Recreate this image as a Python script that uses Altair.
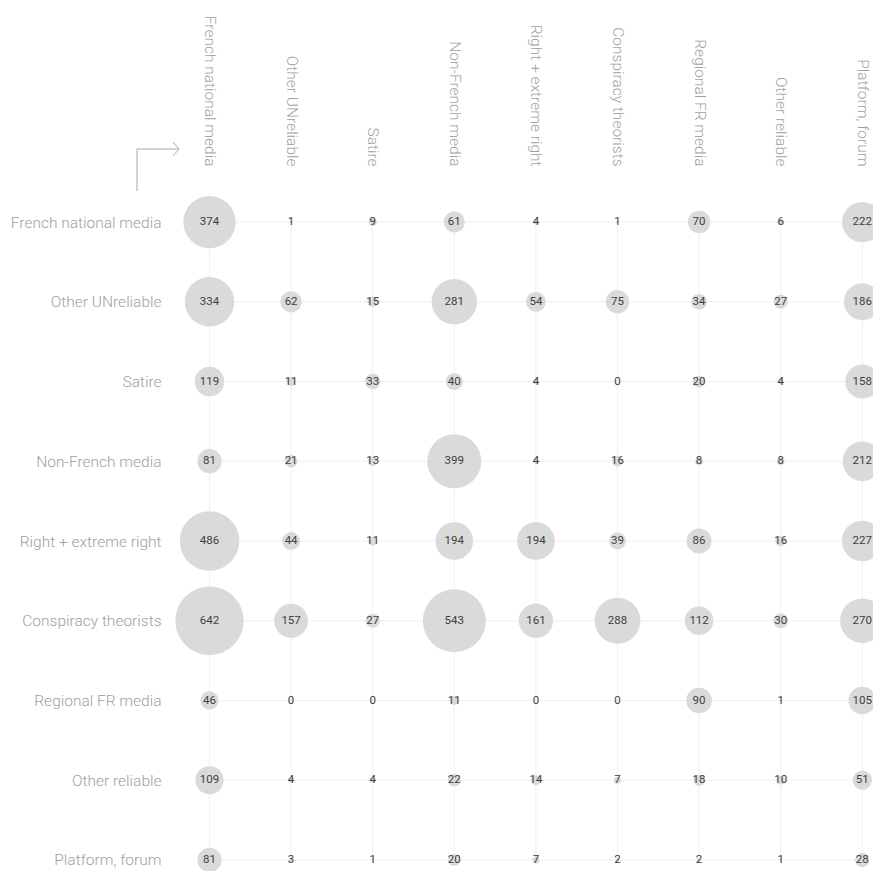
import json
import altair as alt
import pandas as pd

categories = [
    "French national media",
    "Other UNreliable",
    "Satire",
    "Non-French media",
    "Right + extreme right",
    "Conspiracy theorists",
    "Regional FR media",
    "Other reliable",
    "Platform, forum",
]

values = {
    "French national media": [374, 1, 9, 61, 4, 1, 70, 6, 222],
    "Other UNreliable": [334, 62, 15, 281, 54, 75, 34, 27, 186],
    "Satire": [119, 11, 33, 40, 4, 0, 20, 4, 158],
    "Non-French media": [81, 21, 13, 399, 4, 16, 8, 8, 212],
    "Right + extreme right": [486, 44, 11, 194, 194, 39, 86, 16, 227],
    "Conspiracy theorists": [642, 157, 27, 543, 161, 288, 112, 30, 270],
    "Regional FR media": [46, 0, 0, 11, 0, 0, 90, 1, 105],
    "Other reliable": [109, 4, 4, 22, 14, 7, 18, 10, 51],
    "Platform, forum": [81, 3, 1, 20, 7, 2, 2, 1, 28],
}

n = len(categories)
last = n - 1

records = []
for j, r in enumerate(categories):
    for i, v in enumerate(values[r]):
        records.append({"row": j, "col": i, "value": v})
df = pd.DataFrame(records)

vgrid = pd.DataFrame({"col": list(range(n)), "row": [0] * n, "row2": [last] * n})
hgrid = pd.DataFrame({"row": list(range(n)), "col": [0] * n, "col2": [last] * n})

label_expr = json.dumps(categories) + "[datum.value]"

FONT = "Roboto"
LABEL_COLOR = "#a0a0a0"
LABEL_SIZE = 15.5

xscale = alt.Scale(domain=[-0.5086, 8.07], nice=False, zero=False)
yscale = alt.Scale(domain=[-0.527, 8.138], nice=False, zero=False, reverse=True)

x_axis = alt.Axis(
    orient="top", values=list(range(n)), labelExpr=label_expr,
    labelAngle=90, labelAlign="right", labelBaseline="middle",
    labelPadding=14, domain=False, ticks=False, grid=False, title=None,
    labelFontSize=LABEL_SIZE, labelColor=LABEL_COLOR, labelFont=FONT,
    labelFontWeight=300, labelLimit=400,
)
y_axis = alt.Axis(
    orient="left", values=list(range(n)), labelExpr=label_expr,
    labelPadding=7, domain=False, ticks=False, grid=False, title=None,
    labelFontSize=LABEL_SIZE, labelColor=LABEL_COLOR, labelFont=FONT,
    labelFontWeight=300, labelLimit=400,
)

grid_v = alt.Chart(vgrid).mark_rule(color="#efefef", strokeWidth=1).encode(
    x=alt.X("col:Q", scale=xscale, axis=x_axis),
    y=alt.Y("row:Q", scale=yscale, axis=y_axis),
    y2="row2:Q",
)
grid_h = alt.Chart(hgrid).mark_rule(color="#efefef", strokeWidth=1).encode(
    x=alt.X("col:Q", scale=xscale),
    x2="col2:Q",
    y=alt.Y("row:Q", scale=yscale),
)

circles = alt.Chart(df).mark_circle(color="#dadada", opacity=1).encode(
    x=alt.X("col:Q", scale=xscale),
    y=alt.Y("row:Q", scale=yscale),
    size=alt.Size("value:Q", scale=alt.Scale(domain=[0, 642], range=[0, 4690]), legend=None),
)

texts = alt.Chart(df).mark_text(font=FONT, fontSize=11.5, color="#404040").encode(
    x=alt.X("col:Q", scale=xscale),
    y=alt.Y("row:Q", scale=yscale),
    text="value:Q",
)

ARROW = "#a8a8a8"
arrow_v = alt.Chart().mark_rule(color=ARROW, strokeWidth=1).encode(
    x=alt.value(-31), y=alt.value(-31), y2=alt.value(11)
)
arrow_h = alt.Chart().mark_rule(color=ARROW, strokeWidth=1).encode(
    x=alt.value(-31), x2=alt.value(11), y=alt.value(-31)
)
arrow_a = alt.Chart().mark_rule(color=ARROW, strokeWidth=1).encode(
    x=alt.value(5), x2=alt.value(11), y=alt.value(-38), y2=alt.value(-31)
)
arrow_b = alt.Chart().mark_rule(color=ARROW, strokeWidth=1).encode(
    x=alt.value(5), x2=alt.value(11), y=alt.value(-24), y2=alt.value(-31)
)

chart = alt.layer(
    grid_v, grid_h, circles, texts, arrow_v, arrow_h, arrow_a, arrow_b
).properties(
    width=700,
    height=691,
    autosize=alt.AutoSizeParams(type="none"),
    padding={"left": 160, "top": 172, "right": 5, "bottom": 0},
    background="white",
).configure_view(stroke=None)

chart.save("out.html", embed_options={"renderer": "svg", "actions": False})
